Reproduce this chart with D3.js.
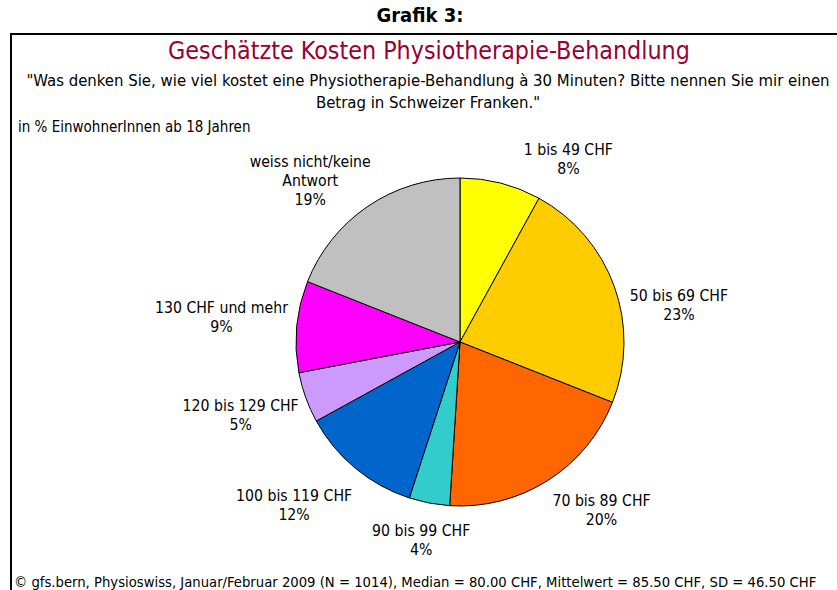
<!DOCTYPE html>
<html>
<head>
<meta charset="utf-8">
<script src="https://cdn.jsdelivr.net/npm/d3@7"></script>
<style>
  html, body { margin: 0; padding: 0; background: #fff; }
  svg { display: block; }
  text { font-family: "DejaVu Sans Condensed", "DejaVu Sans", sans-serif; font-stretch: condensed; }
</style>
</head>
<body>
<svg id="chart" width="837" height="590"></svg>
<script>
// ---- data ----
const categories = ["1 bis 49 CHF", "50 bis 69 CHF", "70 bis 89 CHF", "90 bis 99 CHF",
                    "100 bis 119 CHF", "120 bis 129 CHF", "130 CHF und mehr", "weiss nicht/keine Antwort"];
const labelLines = [["1 bis 49 CHF"], ["50 bis 69 CHF"], ["70 bis 89 CHF"], ["90 bis 99 CHF"],
                    ["100 bis 119 CHF"], ["120 bis 129 CHF"], ["130 CHF und mehr"], ["weiss nicht/keine", "Antwort"]];
const values = [8, 23, 20, 4, 12, 5, 9, 19];
const colors = ["#FFFF00", "#FFCC00", "#FF6600", "#33CCCC", "#0066CC", "#CC99FF", "#FF00FF", "#C0C0C0"];
const heading = "Grafik 3:";
const title = "Geschätzte Kosten Physiotherapie-Behandlung";
const subtitle = ["\"Was denken Sie, wie viel kostet eine Physiotherapie-Behandlung à 30 Minuten? Bitte nennen Sie mir einen",
                  "Betrag in Schweizer Franken.\""];
const unitNote = "in % EinwohnerInnen ab 18 Jahren";
const footer = "© gfs.bern, Physioswiss, Januar/Februar 2009 (N = 1014), Median = 80.00 CHF, Mittelwert = 85.50 CHF, SD = 46.50 CHF";

// label nudges (manual label placement as in the original)
const labelNudge = [[54, 4], [9, 28], [22, 5], [3, 8], [-18, 14], [-1, 8], [1, -7], [-18, 6]];

const svg = d3.select("#chart");

// heading above frame
svg.append("text").attr("x", 420).attr("y", 15).attr("text-anchor", "middle")
  .attr("dominant-baseline", "central")
  .style("font-weight", "bold").style("font-size", "20px").text(heading);

// frame
svg.append("rect").attr("x", 11).attr("y", 34).attr("width", 840).attr("height", 600)
  .attr("fill", "none").attr("stroke", "#000").attr("stroke-width", 2);

svg.append("text").attr("x", 429).attr("y", 50).attr("text-anchor", "middle")
  .attr("dominant-baseline", "central").style("font-size", "24.8px").attr("fill", "#990033").text(title);

svg.selectAll("text.sub").data(subtitle).join("text").attr("class", "sub")
  .attr("x", 428).attr("y", (d, i) => 80 + i * 22).attr("text-anchor", "middle")
  .attr("dominant-baseline", "central").style("font-size", "16.6px").text(d => d);

svg.append("text").attr("x", 18).attr("y", 127).attr("dominant-baseline", "central")
  .style("font-size", "15px").text(unitNote);

svg.append("text").attr("x", 14).attr("y", 581).attr("dominant-baseline", "central")
  .style("font-size", "14.7px").text(footer);

// pie
const cx = 460, cy = 342, r = 164;
const pie = d3.pie().sort(null).value(d => d).startAngle(0).endAngle(2 * Math.PI);
const arcs = pie(values);
const arc = d3.arc().innerRadius(0).outerRadius(r);
const g = svg.append("g").attr("transform", `translate(${cx},${cy})`);
g.selectAll("path").data(arcs).join("path")
  .attr("d", arc).attr("fill", (d, i) => colors[i])
  .attr("stroke", "#000").attr("stroke-width", 1).attr("stroke-linejoin", "round");

// labels
const lineH = 19, pad = 10;
arcs.forEach((a, i) => {
  const lines = labelLines[i].concat([values[i] + "%"]);
  const t = g.append("text").attr("text-anchor", "middle").style("font-size", "15.7px");
  lines.forEach((s, k) => t.append("tspan").attr("x", 0)
      .attr("y", (k - (lines.length - 1) / 2) * lineH).attr("dominant-baseline", "central").text(s));
  const bb = t.node().getBBox();
  const w = bb.width, h = lines.length * lineH;
  const mid = (a.startAngle + a.endAngle) / 2;
  const s = Math.sin(mid), c = Math.cos(mid);
  const px = (r + pad) * s + s * w / 2 + labelNudge[i][0];
  const py = -(r + pad) * c - c * h / 2 + labelNudge[i][1];
  t.attr("transform", `translate(${px},${py})`);
});
</script>
</body>
</html>
